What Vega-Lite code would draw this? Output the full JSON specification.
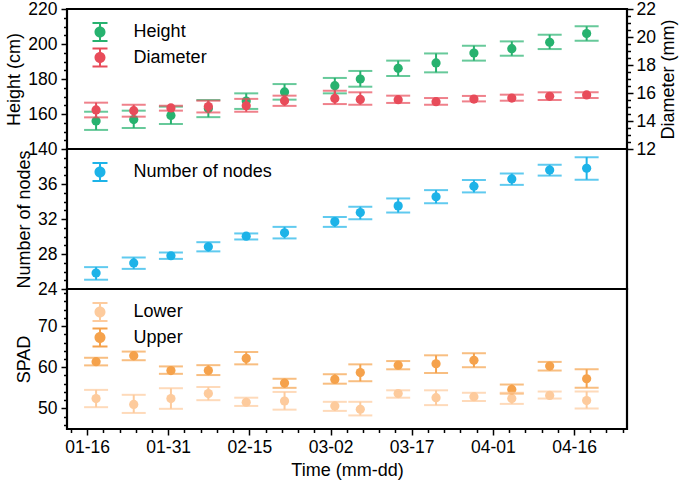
{
  "$schema": "https://vega.github.io/schema/vega-lite/v6.json",
  "padding": {"left": 4, "top": -2, "right": 2, "bottom": 4},
  "spacing": 0,
  "bounds": "flush",
  "config": {
    "font": "Liberation Sans",
    "view": {"stroke": "black", "strokeWidth": 2.2},
    "axis": {"labelFontSize": 17.5, "titleFontSize": 18, "titleFontWeight": "normal", "labelColor": "black", "titleColor": "black", "tickColor": "black", "tickWidth": 1.5, "grid": false, "domain": false, "labelFlush": false, "labelOverlap": false, "labelPadding": 4, "titlePadding": 4},
    "legend": {"labelFontSize": 18, "labelColor": "black", "orient": "top-left", "padding": 0, "offset": 13, "labelOffset": 33.6, "rowPadding": 5.6, "symbolSize": 400, "symbolStrokeWidth": 0, "symbolOpacity": 1}
  },
  "datasets": {
    "d": [
      {"t": "2021-01-17T16:00", "s": "Height", "v": 156.0, "lo": 150.9, "hi": 161.3},
      {"t": "2021-01-24T15:00", "s": "Height", "v": 156.8, "lo": 152.0, "hi": 161.9},
      {"t": "2021-01-31T12:00", "s": "Height", "v": 159.2, "lo": 154.3, "hi": 164.2},
      {"t": "2021-02-07T10:00", "s": "Height", "v": 163.2, "lo": 158.2, "hi": 168.0},
      {"t": "2021-02-14T10:00", "s": "Height", "v": 167.4, "lo": 162.9, "hi": 171.8},
      {"t": "2021-02-21T12:00", "s": "Height", "v": 172.6, "lo": 168.2, "hi": 177.1},
      {"t": "2021-03-02T19:00", "s": "Height", "v": 176.2, "lo": 171.8, "hi": 180.6},
      {"t": "2021-03-07T12:00", "s": "Height", "v": 180.0, "lo": 175.6, "hi": 184.6},
      {"t": "2021-03-14T12:00", "s": "Height", "v": 186.1, "lo": 181.7, "hi": 190.5},
      {"t": "2021-03-21T12:00", "s": "Height", "v": 189.2, "lo": 183.8, "hi": 194.6},
      {"t": "2021-03-28T12:00", "s": "Height", "v": 194.8, "lo": 190.5, "hi": 199.0},
      {"t": "2021-04-04T12:00", "s": "Height", "v": 197.3, "lo": 193.3, "hi": 201.5},
      {"t": "2021-04-11T12:00", "s": "Height", "v": 201.0, "lo": 197.1, "hi": 205.3},
      {"t": "2021-04-18T08:00", "s": "Height", "v": 206.0, "lo": 201.9, "hi": 210.1},
      {"t": "2021-01-17T16:00", "s": "Diameter", "v": 14.79, "lo": 14.26, "hi": 15.31},
      {"t": "2021-01-24T15:00", "s": "Diameter", "v": 14.74, "lo": 14.31, "hi": 15.16},
      {"t": "2021-01-31T12:00", "s": "Diameter", "v": 14.93, "lo": 14.74, "hi": 15.09},
      {"t": "2021-02-07T10:00", "s": "Diameter", "v": 15.03, "lo": 14.61, "hi": 15.45},
      {"t": "2021-02-14T10:00", "s": "Diameter", "v": 15.09, "lo": 14.66, "hi": 15.58},
      {"t": "2021-02-21T12:00", "s": "Diameter", "v": 15.45, "lo": 15.08, "hi": 15.81},
      {"t": "2021-03-02T19:00", "s": "Diameter", "v": 15.61, "lo": 15.21, "hi": 16.16},
      {"t": "2021-03-07T12:00", "s": "Diameter", "v": 15.54, "lo": 15.16, "hi": 16.05},
      {"t": "2021-03-14T12:00", "s": "Diameter", "v": 15.52, "lo": 15.29, "hi": 15.81},
      {"t": "2021-03-21T12:00", "s": "Diameter", "v": 15.38, "lo": 15.16, "hi": 15.64},
      {"t": "2021-03-28T12:00", "s": "Diameter", "v": 15.57, "lo": 15.40, "hi": 15.79},
      {"t": "2021-04-04T12:00", "s": "Diameter", "v": 15.64, "lo": 15.45, "hi": 15.88},
      {"t": "2021-04-11T12:00", "s": "Diameter", "v": 15.76, "lo": 15.50, "hi": 16.05},
      {"t": "2021-04-18T08:00", "s": "Diameter", "v": 15.86, "lo": 15.64, "hi": 16.05},
      {"t": "2021-01-17T16:00", "s": "Number of nodes", "v": 25.83, "lo": 25.06, "hi": 26.5},
      {"t": "2021-01-24T15:00", "s": "Number of nodes", "v": 26.98, "lo": 26.3, "hi": 27.6},
      {"t": "2021-01-31T12:00", "s": "Number of nodes", "v": 27.8, "lo": 27.44, "hi": 28.17},
      {"t": "2021-02-07T10:00", "s": "Number of nodes", "v": 28.82, "lo": 28.3, "hi": 29.35},
      {"t": "2021-02-14T10:00", "s": "Number of nodes", "v": 30.04, "lo": 29.66, "hi": 30.35},
      {"t": "2021-02-21T12:00", "s": "Number of nodes", "v": 30.43, "lo": 29.78, "hi": 31.1},
      {"t": "2021-03-02T19:00", "s": "Number of nodes", "v": 31.7, "lo": 31.1, "hi": 32.23},
      {"t": "2021-03-07T12:00", "s": "Number of nodes", "v": 32.74, "lo": 31.97, "hi": 33.4},
      {"t": "2021-03-14T12:00", "s": "Number of nodes", "v": 33.5, "lo": 32.74, "hi": 34.35},
      {"t": "2021-03-21T12:00", "s": "Number of nodes", "v": 34.54, "lo": 33.8, "hi": 35.3},
      {"t": "2021-03-28T12:00", "s": "Number of nodes", "v": 35.73, "lo": 35.04, "hi": 36.46},
      {"t": "2021-04-04T12:00", "s": "Number of nodes", "v": 36.58, "lo": 35.9, "hi": 37.2},
      {"t": "2021-04-11T12:00", "s": "Number of nodes", "v": 37.6, "lo": 36.96, "hi": 38.2},
      {"t": "2021-04-18T08:00", "s": "Number of nodes", "v": 37.8, "lo": 36.5, "hi": 39.07},
      {"t": "2021-01-17T16:00", "s": "Lower", "v": 52.4, "lo": 50.3, "hi": 54.5},
      {"t": "2021-01-24T15:00", "s": "Lower", "v": 50.97, "lo": 48.9, "hi": 53.3},
      {"t": "2021-01-31T12:00", "s": "Lower", "v": 52.4, "lo": 49.9, "hi": 54.9},
      {"t": "2021-02-07T10:00", "s": "Lower", "v": 53.6, "lo": 52.0, "hi": 55.2},
      {"t": "2021-02-14T10:00", "s": "Lower", "v": 51.5, "lo": 50.6, "hi": 52.6},
      {"t": "2021-02-21T12:00", "s": "Lower", "v": 51.8, "lo": 49.7, "hi": 54.0},
      {"t": "2021-03-02T19:00", "s": "Lower", "v": 50.6, "lo": 49.4, "hi": 51.6},
      {"t": "2021-03-07T12:00", "s": "Lower", "v": 49.8, "lo": 48.3, "hi": 51.6},
      {"t": "2021-03-14T12:00", "s": "Lower", "v": 53.6, "lo": 52.6, "hi": 54.4},
      {"t": "2021-03-21T12:00", "s": "Lower", "v": 52.6, "lo": 50.8, "hi": 54.4},
      {"t": "2021-03-28T12:00", "s": "Lower", "v": 52.85, "lo": 51.8, "hi": 53.8},
      {"t": "2021-04-04T12:00", "s": "Lower", "v": 52.4, "lo": 51.1, "hi": 53.8},
      {"t": "2021-04-11T12:00", "s": "Lower", "v": 53.15, "lo": 52.4, "hi": 54.1},
      {"t": "2021-04-18T08:00", "s": "Lower", "v": 51.9, "lo": 50.0, "hi": 54.1},
      {"t": "2021-01-17T16:00", "s": "Upper", "v": 61.35, "lo": 60.45, "hi": 62.3},
      {"t": "2021-01-24T15:00", "s": "Upper", "v": 62.8, "lo": 61.7, "hi": 63.8},
      {"t": "2021-01-31T12:00", "s": "Upper", "v": 59.2, "lo": 58.4, "hi": 60.2},
      {"t": "2021-02-07T10:00", "s": "Upper", "v": 59.2, "lo": 58.1, "hi": 60.5},
      {"t": "2021-02-14T10:00", "s": "Upper", "v": 62.15, "lo": 60.7, "hi": 63.7},
      {"t": "2021-02-21T12:00", "s": "Upper", "v": 56.15, "lo": 55.0, "hi": 57.2},
      {"t": "2021-03-02T19:00", "s": "Upper", "v": 57.05, "lo": 56.0, "hi": 58.3},
      {"t": "2021-03-07T12:00", "s": "Upper", "v": 58.7, "lo": 56.6, "hi": 60.7},
      {"t": "2021-03-14T12:00", "s": "Upper", "v": 60.5, "lo": 59.5, "hi": 61.5},
      {"t": "2021-03-21T12:00", "s": "Upper", "v": 60.85, "lo": 58.6, "hi": 62.9},
      {"t": "2021-03-28T12:00", "s": "Upper", "v": 61.7, "lo": 60.0, "hi": 63.4},
      {"t": "2021-04-04T12:00", "s": "Upper", "v": 54.6, "lo": 53.6, "hi": 55.8},
      {"t": "2021-04-11T12:00", "s": "Upper", "v": 60.3, "lo": 59.2, "hi": 61.3},
      {"t": "2021-04-18T08:00", "s": "Upper", "v": 57.2, "lo": 55.0, "hi": 59.5}
    ]
  },
  "resolve": {"scale": {"color": "independent"}, "legend": {"color": "independent"}},
  "vconcat": [
    {
      "width": 560, "height": 140,
      "data": {"name": "d"},
      "transform": [{"filter": "datum.s === 'Height' || datum.s === 'Diameter'"}],
      "resolve": {"scale": {"y": "independent"}, "axis": {"y": "independent"}},
      "encoding": {
        "x": {"field": "t", "type": "temporal", "axis": null, "scale": {"domain": [{"year": 2021, "month": 1, "date": 12, "hours": 7}, {"year": 2021, "month": 4, "date": 25, "hours": 19}]}}
      },
      "layer": [
        {"transform": [{"filter": "datum.s === 'Height'"}], "mark": {"type": "point", "filled": true, "size": 85, "opacity": 1}, "encoding": {"y": {"field": "v", "type": "quantitative", "scale": {"domain": [140, 220], "nice": false, "zero": false}, "axis": null},
          "color": {"field": "s", "type": "nominal", "scale": {"domain": ["Height", "Diameter"], "range": ["#27b26f", "#e84c5a"]}, "legend": {"title": null, "symbolType": "M0.25,-1H1.75V-0.8H0.25Z M0.9,-0.9H1.1V0.9H0.9Z M0.25,0.8H1.75V1H0.25Z M1.55,0A0.55,0.55,0,1,1,0.45,0A0.55,0.55,0,1,1,1.55,0Z"}}}},
        {"transform": [{"filter": "datum.s === 'Height'"}], "mark": {"type": "rule", "strokeWidth": 2}, "encoding": {"y": {"field": "lo", "type": "quantitative", "scale": {"domain": [140, 220], "nice": false, "zero": false}, "axis": {"orient": "left", "values": [140, 160, 180, 200, 220], "title": "Height (cm)", "tickSize": 6}}, "y2": {"field": "hi"}, "color": {"field": "s", "type": "nominal", "legend": null}}},
        {"transform": [{"filter": "datum.s === 'Height'"}], "mark": {"type": "tick", "orient": "horizontal", "size": 24, "thickness": 2}, "encoding": {"y": {"field": "lo", "type": "quantitative", "scale": {"domain": [140, 220], "nice": false, "zero": false}, "axis": null}, "color": {"field": "s", "type": "nominal", "legend": null}}},
        {"transform": [{"filter": "datum.s === 'Height'"}], "mark": {"type": "tick", "orient": "horizontal", "size": 24, "thickness": 2}, "encoding": {"y": {"field": "hi", "type": "quantitative", "scale": {"domain": [140, 220], "nice": false, "zero": false}, "axis": null}, "color": {"field": "s", "type": "nominal", "legend": null}}},
        {"transform": [{"filter": "datum.s === 'Height'"}], "mark": {"type": "point", "opacity": 0}, "encoding": {"y": {"field": "v", "type": "quantitative", "scale": {"domain": [140, 220], "nice": false, "zero": false}, "axis": {"orient": "left", "values": [145, 150, 155, 165, 170, 175, 185, 190, 195, 205, 210, 215], "labels": false, "title": null, "tickSize": 3.5}}}},
        {"transform": [{"filter": "datum.s === 'Diameter'"}], "mark": {"type": "point", "filled": true, "size": 85, "opacity": 1}, "encoding": {"y": {"field": "v", "type": "quantitative", "scale": {"domain": [12, 22], "nice": false, "zero": false}, "axis": null}, "color": {"field": "s", "type": "nominal", "legend": null}}},
        {"transform": [{"filter": "datum.s === 'Diameter'"}], "mark": {"type": "rule", "strokeWidth": 2}, "encoding": {"y": {"field": "lo", "type": "quantitative", "scale": {"domain": [12, 22], "nice": false, "zero": false}, "axis": {"orient": "right", "values": [12, 14, 16, 18, 20, 22], "title": "Diameter (mm)", "tickSize": 6, "labelPadding": 3, "titlePadding": 4, "titleAngle": 270, "titleBaseline": "top"}}, "y2": {"field": "hi"}, "color": {"field": "s", "type": "nominal", "legend": null}}},
        {"transform": [{"filter": "datum.s === 'Diameter'"}], "mark": {"type": "tick", "orient": "horizontal", "size": 24, "thickness": 2}, "encoding": {"y": {"field": "lo", "type": "quantitative", "scale": {"domain": [12, 22], "nice": false, "zero": false}, "axis": null}, "color": {"field": "s", "type": "nominal", "legend": null}}},
        {"transform": [{"filter": "datum.s === 'Diameter'"}], "mark": {"type": "tick", "orient": "horizontal", "size": 24, "thickness": 2}, "encoding": {"y": {"field": "hi", "type": "quantitative", "scale": {"domain": [12, 22], "nice": false, "zero": false}, "axis": null}, "color": {"field": "s", "type": "nominal", "legend": null}}},
        {"transform": [{"filter": "datum.s === 'Diameter'"}], "mark": {"type": "point", "opacity": 0}, "encoding": {"y": {"field": "v", "type": "quantitative", "scale": {"domain": [12, 22], "nice": false, "zero": false}, "axis": {"orient": "right", "values": [12.5, 13, 13.5, 14.5, 15, 15.5, 16.5, 17, 17.5, 18.5, 19, 19.5, 20.5, 21, 21.5], "labels": false, "title": null, "tickSize": 3.5}}}}
      ]
    },
    {
      "width": 560, "height": 140,
      "data": {"name": "d"},
      "transform": [{"filter": "datum.s === 'Number of nodes'"}],
      "resolve": {"axis": {"y": "independent"}},
      "encoding": {
        "x": {"field": "t", "type": "temporal", "axis": null, "scale": {"domain": [{"year": 2021, "month": 1, "date": 12, "hours": 7}, {"year": 2021, "month": 4, "date": 25, "hours": 19}]}}
      },
      "layer": [
        {"mark": {"type": "point", "filled": true, "size": 85, "opacity": 1}, "encoding": {"y": {"field": "v", "type": "quantitative", "scale": {"domain": [24, 40], "nice": false, "zero": false}, "axis": null},
          "color": {"field": "s", "type": "nominal", "scale": {"domain": ["Number of nodes"], "range": ["#1db3e8"]}, "legend": {"title": null, "symbolType": "M0.25,-1H1.75V-0.8H0.25Z M0.9,-0.9H1.1V0.9H0.9Z M0.25,0.8H1.75V1H0.25Z M1.55,0A0.55,0.55,0,1,1,0.45,0A0.55,0.55,0,1,1,1.55,0Z"}}}},
        {"mark": {"type": "rule", "strokeWidth": 2}, "encoding": {"y": {"field": "lo", "type": "quantitative", "axis": {"orient": "left", "values": [24, 28, 32, 36], "title": "Number of nodes", "tickSize": 6}}, "y2": {"field": "hi"}, "color": {"field": "s", "type": "nominal", "legend": null}}},
        {"mark": {"type": "tick", "orient": "horizontal", "size": 24, "thickness": 2}, "encoding": {"y": {"field": "lo", "type": "quantitative", "axis": null}, "color": {"field": "s", "type": "nominal", "legend": null}}},
        {"mark": {"type": "tick", "orient": "horizontal", "size": 24, "thickness": 2}, "encoding": {"y": {"field": "hi", "type": "quantitative", "axis": null}, "color": {"field": "s", "type": "nominal", "legend": null}}},
        {"mark": {"type": "point", "opacity": 0}, "encoding": {"y": {"field": "v", "type": "quantitative", "axis": {"orient": "left", "values": [25, 26, 27, 29, 30, 31, 33, 34, 35, 37, 38, 39], "labels": false, "title": null, "tickSize": 3.5}}}}
      ]
    },
    {
      "width": 560, "height": 140,
      "data": {"name": "d"},
      "transform": [{"filter": "datum.s === 'Lower' || datum.s === 'Upper'"}],
      "resolve": {"axis": {"y": "independent", "x": "independent"}},
      "encoding": {
        "x": {"field": "t", "type": "temporal", "axis": null, "scale": {"domain": [{"year": 2021, "month": 1, "date": 12, "hours": 7}, {"year": 2021, "month": 4, "date": 25, "hours": 19}]}}
      },
      "layer": [
        {"mark": {"type": "point", "filled": true, "size": 85, "opacity": 1}, "encoding": {"y": {"field": "v", "type": "quantitative", "scale": {"domain": [45, 79], "nice": false, "zero": false}, "axis": null},
          "color": {"field": "s", "type": "nominal", "scale": {"domain": ["Lower", "Upper"], "range": ["#fdcb9d", "#f5a24c"]}, "legend": {"title": null, "symbolType": "M0.25,-1H1.75V-0.8H0.25Z M0.9,-0.9H1.1V0.9H0.9Z M0.25,0.8H1.75V1H0.25Z M1.55,0A0.55,0.55,0,1,1,0.45,0A0.55,0.55,0,1,1,1.55,0Z"}}}},
        {"mark": {"type": "rule", "strokeWidth": 2}, "encoding": {
          "x": {"field": "t", "type": "temporal", "title": "Time (mm-dd)", "axis": {"orient": "bottom", "format": "%m-%d", "tickSize": 6, "labelPadding": 3, "titlePadding": 6,
            "values": [{"year": 2021, "month": 1, "date": 16}, {"year": 2021, "month": 1, "date": 31}, {"year": 2021, "month": 2, "date": 15}, {"year": 2021, "month": 3, "date": 2}, {"year": 2021, "month": 3, "date": 17}, {"year": 2021, "month": 4, "date": 1}, {"year": 2021, "month": 4, "date": 16}]}},
          "y": {"field": "lo", "type": "quantitative", "axis": {"orient": "left", "values": [50, 60, 70], "title": "SPAD", "tickSize": 6}}, "y2": {"field": "hi"}, "color": {"field": "s", "type": "nominal", "legend": null}}},
        {"mark": {"type": "tick", "orient": "horizontal", "size": 24, "thickness": 2}, "encoding": {"y": {"field": "lo", "type": "quantitative", "axis": null}, "color": {"field": "s", "type": "nominal", "legend": null}}},
        {"mark": {"type": "tick", "orient": "horizontal", "size": 24, "thickness": 2}, "encoding": {"y": {"field": "hi", "type": "quantitative", "axis": null}, "color": {"field": "s", "type": "nominal", "legend": null}}},
        {"mark": {"type": "point", "opacity": 0}, "encoding": {
          "x": {"field": "t", "type": "temporal", "axis": {"orient": "bottom", "labels": false, "title": null, "tickSize": 3.5,
            "values": [{"year": 2021, "month": 1, "date": 13}, {"year": 2021, "month": 1, "date": 19}, {"year": 2021, "month": 1, "date": 22}, {"year": 2021, "month": 1, "date": 25}, {"year": 2021, "month": 1, "date": 28}, {"year": 2021, "month": 2, "date": 3}, {"year": 2021, "month": 2, "date": 6}, {"year": 2021, "month": 2, "date": 9}, {"year": 2021, "month": 2, "date": 12}, {"year": 2021, "month": 2, "date": 18}, {"year": 2021, "month": 2, "date": 21}, {"year": 2021, "month": 2, "date": 24}, {"year": 2021, "month": 2, "date": 27}, {"year": 2021, "month": 3, "date": 5}, {"year": 2021, "month": 3, "date": 8}, {"year": 2021, "month": 3, "date": 11}, {"year": 2021, "month": 3, "date": 14}, {"year": 2021, "month": 3, "date": 20}, {"year": 2021, "month": 3, "date": 23}, {"year": 2021, "month": 3, "date": 26}, {"year": 2021, "month": 3, "date": 29}, {"year": 2021, "month": 4, "date": 4}, {"year": 2021, "month": 4, "date": 7}, {"year": 2021, "month": 4, "date": 10}, {"year": 2021, "month": 4, "date": 13}, {"year": 2021, "month": 4, "date": 19}, {"year": 2021, "month": 4, "date": 22}, {"year": 2021, "month": 4, "date": 25}]}},
          "y": {"field": "v", "type": "quantitative", "axis": {"orient": "left", "values": [46, 48, 52, 54, 56, 58, 62, 64, 66, 68, 72, 74, 76, 78], "labels": false, "title": null, "tickSize": 3.5}}}}
      ]
    }
  ]
}
